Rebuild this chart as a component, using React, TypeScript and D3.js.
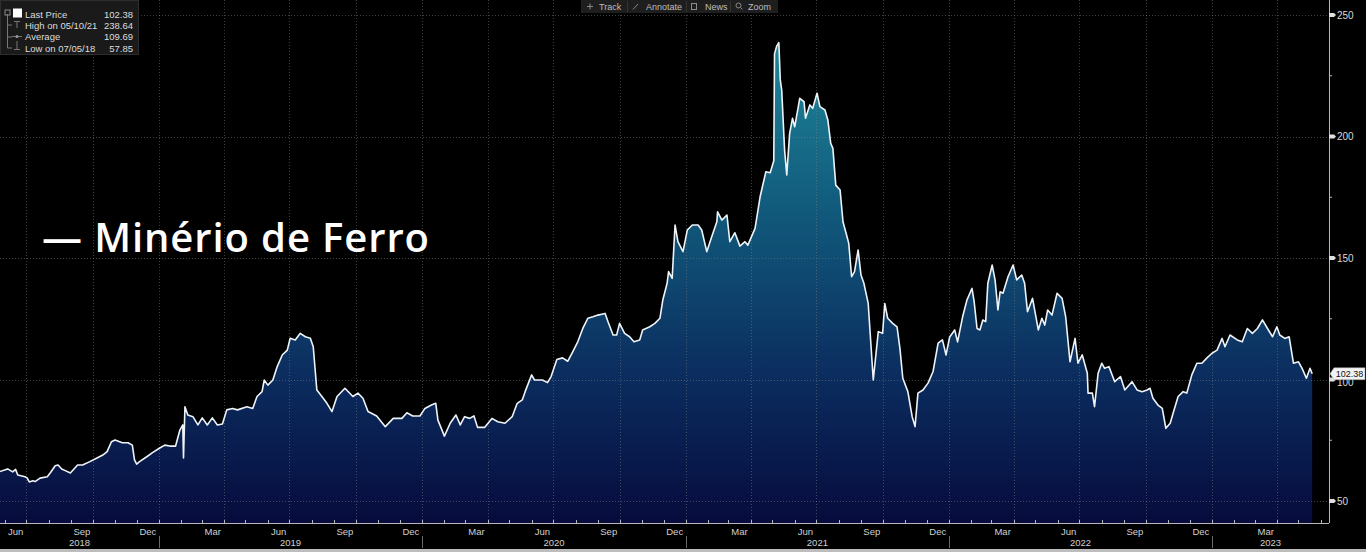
import React from "react";
import * as d3 from "d3";

const dates = [
  "2018-05-25","2018-06-05","2018-06-12","2018-06-16","2018-06-19","2018-06-29","2018-07-02","2018-07-05","2018-07-10","2018-07-13",
  "2018-07-20","2018-07-30","2018-08-03","2018-08-10","2018-08-14","2018-08-19","2018-08-24","2018-08-31","2018-09-06","2018-09-10",
  "2018-09-17","2018-09-27","2018-10-07","2018-10-15","2018-10-21","2018-10-27","2018-11-01","2018-11-11","2018-11-19","2018-11-25",
  "2018-11-28","2018-12-01","2018-12-05","2018-12-15","2018-12-23","2019-01-02","2019-01-09","2019-01-16","2019-01-24","2019-01-30",
  "2019-02-03","2019-02-04","2019-02-06","2019-02-10","2019-02-17","2019-02-24","2019-03-02","2019-03-09","2019-03-16","2019-03-23",
  "2019-03-30","2019-04-05","2019-04-13","2019-04-20","2019-05-03","2019-05-11","2019-05-17","2019-05-24","2019-05-27","2019-06-01",
  "2019-06-08","2019-06-14","2019-06-21","2019-06-28","2019-07-02","2019-07-09","2019-07-16","2019-07-23","2019-07-30","2019-08-03",
  "2019-08-08","2019-08-15","2019-08-22","2019-08-29","2019-09-05","2019-09-16","2019-09-27","2019-10-04","2019-10-11","2019-10-18",
  "2019-10-30","2019-11-11","2019-11-22","2019-12-04","2019-12-11","2019-12-19","2019-12-29","2020-01-05","2020-01-14","2020-01-20",
  "2020-01-23","2020-02-01","2020-02-09","2020-02-17","2020-02-23","2020-02-29","2020-03-07","2020-03-13","2020-03-18","2020-03-28",
  "2020-04-07","2020-04-15","2020-04-25","2020-05-05","2020-05-12","2020-05-19","2020-05-23","2020-06-01","2020-06-05","2020-06-16",
  "2020-06-23","2020-06-28","2020-07-06","2020-07-14","2020-07-21","2020-07-28","2020-08-04","2020-08-11","2020-08-18","2020-08-25",
  "2020-09-01","2020-09-11","2020-09-15","2020-09-22","2020-09-27","2020-10-01","2020-10-08","2020-10-15","2020-10-21","2020-10-29",
  "2020-11-02","2020-11-12","2020-11-19","2020-11-26","2020-11-30","2020-12-06","2020-12-08","2020-12-13","2020-12-17","2020-12-21",
  "2020-12-28","2021-01-03","2021-01-10","2021-01-18","2021-01-23","2021-01-30","2021-02-06","2021-02-13","2021-02-14","2021-02-20",
  "2021-02-27","2021-03-03","2021-03-10","2021-03-17","2021-03-24","2021-03-28","2021-04-07","2021-04-14","2021-04-22","2021-04-28",
  "2021-05-03","2021-05-04","2021-05-07","2021-05-10","2021-05-12","2021-05-14","2021-05-18","2021-05-21","2021-05-25","2021-05-29",
  "2021-06-01","2021-06-08","2021-06-14","2021-06-16","2021-06-22","2021-06-26","2021-07-02","2021-07-06","2021-07-13","2021-07-17",
  "2021-07-21","2021-07-24","2021-07-28","2021-08-03","2021-08-07","2021-08-12","2021-08-15","2021-08-19","2021-08-23","2021-08-28",
  "2021-09-01","2021-09-05","2021-09-11","2021-09-18","2021-09-25","2021-10-01","2021-10-04","2021-10-08","2021-10-15","2021-10-21",
  "2021-10-25","2021-10-29","2021-11-05","2021-11-11","2021-11-15","2021-11-19","2021-11-26","2021-12-03","2021-12-10","2021-12-17",
  "2021-12-23","2021-12-28","2022-01-02","2022-01-09","2022-01-13","2022-01-20","2022-01-26","2022-02-02","2022-02-05","2022-02-09",
  "2022-02-13","2022-02-17","2022-02-21","2022-02-24","2022-03-02","2022-03-06","2022-03-10","2022-03-13","2022-03-17","2022-03-24",
  "2022-03-31","2022-04-05","2022-04-12","2022-04-16","2022-04-20","2022-04-27","2022-05-05","2022-05-10","2022-05-14","2022-05-18",
  "2022-05-24","2022-05-31","2022-06-07","2022-06-12","2022-06-18","2022-06-25","2022-06-29","2022-07-05","2022-07-12","2022-07-13",
  "2022-07-19","2022-07-22","2022-07-27","2022-08-01","2022-08-05","2022-08-11","2022-08-19","2022-08-27","2022-09-02","2022-09-12",
  "2022-09-19","2022-09-26","2022-10-03","2022-10-07","2022-10-11","2022-10-18","2022-10-24","2022-10-29","2022-11-04","2022-11-08",
  "2022-11-15","2022-11-22","2022-11-27","2022-12-04","2022-12-11","2022-12-18","2022-12-25","2023-01-01","2023-01-08","2023-01-15",
  "2023-01-19","2023-01-26","2023-02-05","2023-02-12","2023-02-19","2023-02-26","2023-03-05","2023-03-12","2023-03-19","2023-03-26",
  "2023-04-01","2023-04-05","2023-04-12","2023-04-18","2023-04-24","2023-05-01","2023-05-06","2023-05-12","2023-05-17","2023-05-20"
];

const prices = [
  62.1,63.2,62.0,63.0,60.7,60.0,59.5,57.85,58.3,58.0,
  59.4,60.0,61.5,64.5,64.8,63.2,62.5,61.5,63.5,64.8,
  64.8,66.2,67.7,68.9,70.3,74.4,75.1,74.0,74.0,73.0,
  66.9,65.2,66.2,68.2,69.9,71.8,73.0,72.6,72.6,79.2,
  81.3,67.7,88.8,85.4,84.7,81.3,84.2,81.3,84.2,81.3,
  81.7,87.5,88.1,87.5,88.8,88.1,93.0,95.0,99.8,97.7,
  99.8,105.3,110.1,112.1,117.0,116.3,119.0,117.6,117.0,113.5,
  95.7,93.0,90.2,86.8,93.0,96.4,93.0,94.4,92.3,86.8,
  85.0,80.6,84.0,84.0,86.3,85.0,85.0,88.1,89.5,90.2,
  83.3,76.7,82.0,85.4,81.3,84.7,84.0,85.0,80.3,80.3,
  84.0,82.6,82.0,84.7,90.2,91.6,95.0,101.9,99.8,99.8,
  98.7,101.2,108.2,108.9,107.5,111.4,115.5,121.0,125.2,125.8,
  126.5,127.2,123.8,118.3,118.3,123.1,119.0,117.6,115.5,116.3,
  120.4,121.7,123.1,125.2,132.7,139.6,144.4,141.6,163.6,156.7,
  152.6,161.5,163.6,163.6,161.5,152.6,158.8,164.9,169.0,165.6,
  167.7,156.7,160.4,154.9,156.7,155.3,162.2,175.2,185.5,185.1,
  190.0,234.0,237.2,238.64,223.3,219.1,194.4,184.2,201.3,207.5,
  204.0,215.7,214.3,207.5,213.0,211.6,217.8,212.3,210.9,206.8,
  197.2,195.1,180.0,178.0,164.9,159.5,156.0,142.3,144.4,153.3,
  143.0,139.6,131.3,99.8,119.7,119.0,131.3,125.2,123.1,121.7,
  112.8,100.5,95.0,84.7,80.6,94.4,95.7,98.5,103.3,115.0,
  116.3,110.1,117.5,120.4,115.5,125.8,132.7,137.5,132.0,121.0,
  120.4,124.5,123.8,139.6,147.1,141.0,128.6,136.1,135.5,142.3,
  147.1,141.0,143.0,139.6,127.9,133.4,120.4,125.2,122.4,128.6,
  126.5,135.5,133.4,125.8,107.3,116.9,106.7,110.1,102.6,94.4,
  94.4,88.8,102.6,106.7,104.6,105.3,99.1,101.2,95.7,99.1,
  95.7,95.0,95.7,96.4,92.3,89.5,88.1,79.9,82.0,86.1,
  93.0,95.0,94.4,101.9,106.7,106.7,108.9,110.8,112.1,116.9,
  113.5,118.3,116.3,115.5,121.0,119.0,121.0,124.5,121.0,117.6,
  121.7,118.3,116.9,117.6,106.7,107.3,104.6,100.5,104.6,102.38
];

const yTicks = [50, 100, 150, 200, 250];
const yMinorTicks = [75, 125, 175, 225];
const labelMonths = [2, 5, 8, 11];
const legendLabels = ["Last Price", "High on 05/10/21", "Average", "Low on 07/05/18"];
const legendValues = ["102.38", "238.64", "109.69", "57.85"];
const toolbarItems = ["Track", "Annotate", "News", "Zoom"];
const titleText = "— Minério de Ferro";
const lastPriceText = "102.38";

export default function App() {
  const W = 1366;
  const H = 552;
  const plotRight = 1329;
  const plotBottom = 523;
  const parse = d3.utcParse("%Y-%m-%d");
  const data = dates.map((d, i) => ({ date: parse(d) as Date, value: prices[i] }));

  const x = d3
    .scaleUtc()
    .domain([new Date(Date.UTC(2019, 0, 1)), new Date(Date.UTC(2023, 0, 1))])
    .range([159, 1212]);
  const y = d3.scaleLinear().domain([50, 250]).range([501, 15]);

  const xStart = x.invert(0);
  const xEnd = x.invert(plotRight);

  const area = d3
    .area<{ date: Date; value: number }>()
    .x((d) => x(d.date))
    .y0(plotBottom)
    .y1((d) => y(d.value));
  const line = d3
    .line<{ date: Date; value: number }>()
    .x((d) => x(d.date))
    .y((d) => y(d.value));

  const monthStarts = d3.utcMonth.range(d3.utcMonth.floor(xStart), xEnd);
  const tickMonths = monthStarts.filter((m) => x(m) >= 0 && x(m) <= plotRight);
  const quarterStarts = tickMonths.filter((m) => m.getUTCMonth() % 3 === 0);
  const fmt = d3.utcFormat("%b");
  const monthLabelData = monthStarts
    .filter((m) => labelMonths.includes(m.getUTCMonth()))
    .map((m) => {
      const next = d3.utcMonth.offset(m, 1);
      return { text: fmt(m), cx: (x(m) + x(next)) / 2 };
    })
    .filter((d) => d.cx > 0 && d.cx < plotRight);

  const years = d3.range(xStart.getUTCFullYear(), xEnd.getUTCFullYear() + 1);
  const yearData = years.map((yr) => {
    const a = Math.max(0, x(new Date(Date.UTC(yr, 0, 1))));
    const b = Math.min(plotRight, x(new Date(Date.UTC(yr + 1, 0, 1))));
    return { text: String(yr), cx: (a + b) / 2 };
  });
  const yearSeps = years
    .map((yr) => new Date(Date.UTC(yr, 0, 1)))
    .filter((d) => x(d) > 0 && x(d) < plotRight);

  const axisFont = "'Liberation Sans', Arial, sans-serif";
  const last = data[data.length - 1];
  const lastY = y(last.value);

  return (
    <div style={{ position: "absolute", left: 0, top: 0 }}>
      <svg width={W} height={H} style={{ display: "block", background: "#000" }}>
        <defs>
          <linearGradient id="fillGrad" gradientUnits="userSpaceOnUse" x1="0" y1="40" x2="0" y2={plotBottom}>
            <stop offset="0" stopColor="#1f8799" />
            <stop offset="0.35" stopColor="#115a7c" />
            <stop offset="0.7" stopColor="#0b2c5e" />
            <stop offset="1" stopColor="#070b3d" />
          </linearGradient>
        </defs>
        <rect x={0} y={0} width={W} height={H} fill="#000" />

        <path d={area(data) || ""} fill="url(#fillGrad)" />

        {/* grid */}
        <g stroke="#8a8a8a" strokeOpacity={0.45} strokeDasharray="1 2" strokeWidth={1}>
          {yTicks.map((t) => (
            <line key={"h" + t} x1={0} x2={plotRight} y1={Math.round(y(t)) + 0.5} y2={Math.round(y(t)) + 0.5} />
          ))}
          {quarterStarts.map((m) => (
            <line key={"v" + m.getTime()} x1={Math.round(x(m)) + 0.5} x2={Math.round(x(m)) + 0.5} y1={0} y2={plotBottom} />
          ))}
        </g>

        <path d={line(data) || ""} fill="none" stroke="#eef3f8" strokeWidth={1.6} strokeLinejoin="round" />

        {/* axes */}
        <line x1={0} x2={plotRight} y1={plotBottom + 0.5} y2={plotBottom + 0.5} stroke="#b8b8b8" />
        <line x1={plotRight + 0.5} x2={plotRight + 0.5} y1={0} y2={plotBottom} stroke="#b8b8b8" />
        {tickMonths.map((m) => (
          <line key={"mt" + m.getTime()} x1={Math.round(x(m)) + 0.5} x2={Math.round(x(m)) + 0.5} y1={plotBottom - 3} y2={plotBottom} stroke="#b8b8b8" />
        ))}
        {yMinorTicks.map((t) => (
          <line key={"mn" + t} x1={plotRight} x2={plotRight + 3} y1={y(t)} y2={y(t)} stroke="#b8b8b8" />
        ))}
        {yTicks.map((t) => (
          <g key={"yt" + t}>
            <path d={`M${plotRight},${y(t) - 2}L${plotRight + 5},${y(t) - 2}L${plotRight + 7},${y(t)}L${plotRight + 5},${y(t) + 2}L${plotRight},${y(t) + 2}Z`} fill="#e0e0e0" />
            <text x={plotRight + 8} y={y(t) + (t === 100 ? 6 : 3.5)} fontSize={10} fill="#d8d8d8" fontFamily={axisFont}>
              {t}
            </text>
          </g>
        ))}

        {monthLabelData.map((d) => (
          <text key={"ml" + d.cx} x={d.cx} y={535} textAnchor="middle" fontSize={9.5} fill="#d0d0d0" fontFamily={axisFont}>
            {d.text}
          </text>
        ))}
        {yearData.map((d) => (
          <text key={"yl" + d.text} x={d.cx} y={546} textAnchor="middle" fontSize={9.5} fill="#d0d0d0" fontFamily={axisFont}>
            {d.text}
          </text>
        ))}
        {yearSeps.map((d) => (
          <line key={"ys" + d.getTime()} x1={Math.round(x(d)) + 0.5} x2={Math.round(x(d)) + 0.5} y1={536} y2={548} stroke="#6a6a6a" />
        ))}
        <rect x={0} y={549} width={W} height={3} fill="#bdbdbd" />

        {/* last price tag */}
        <path
          d={`M${plotRight + 1},${lastY}L${plotRight + 5},${lastY - 6}L${W - 1},${lastY - 6}L${W - 1},${lastY + 6}L${plotRight + 5},${lastY + 6}Z`}
          fill="#f2f2f2"
          stroke="#999"
          strokeWidth={0.5}
        />
        <text x={(plotRight + 5 + W - 1) / 2} y={lastY + 3.3} textAnchor="middle" fontSize={9} fill="#111" fontFamily={axisFont}>
          {lastPriceText}
        </text>

        {/* legend box */}
        <rect x={0.5} y={0.5} width={138} height={54} fill="#1a1a1a" stroke="#2e2e2e" />
        <g stroke="#777" strokeWidth={1} fill="none">
          <line x1={7.5} x2={7.5} y1={14} y2={48} />
          <rect x={5} y={10} width={5} height={5} stroke="#888" />
          <line x1={7.5} x2={12} y1={25} y2={25} />
          <line x1={7.5} x2={12} y1={37} y2={37} />
          <line x1={7.5} x2={12} y1={48} y2={48} />
          <line x1={14} x2={20} y1={21.5} y2={21.5} />
          <line x1={17} x2={17} y1={21.5} y2={28} />
          <line x1={12} x2={22} y1={36.5} y2={36.5} />
          <line x1={17} x2={17} y1={41} y2={49} />
          <line x1={14} x2={20} y1={49.5} y2={49.5} />
        </g>
        <circle cx={17} cy={36.5} r={1.5} fill="#999" />
        <rect x={13} y={8.5} width={9} height={9} fill="#fff" />
        {legendLabels.map((l, i) => (
          <g key={"lg" + i}>
            <text x={25} y={18 + i * 11.2} fontSize={9.5} fill="#dcdcdc" fontFamily={axisFont}>
              {l}
            </text>
            <text x={133} y={18 + i * 11.2} fontSize={9.5} fill="#dcdcdc" textAnchor="end" fontFamily={axisFont}>
              {legendValues[i]}
            </text>
          </g>
        ))}

        {/* toolbar */}
        <rect x={581} y={0} width={197} height={13} fill="#1e1e1e" />
        <line x1={627.5} x2={627.5} y1={1} y2={12} stroke="#333" />
        <line x1={686.5} x2={686.5} y1={1} y2={12} stroke="#333" />
        <line x1={730.5} x2={730.5} y1={1} y2={12} stroke="#333" />
        <g stroke="#8a8a8a" strokeWidth={1} fill="none">
          <line x1={587} x2={593} y1={6.5} y2={6.5} />
          <line x1={590} x2={590} y1={3.5} y2={9.5} />
          <line x1={633} x2={638} y1={9.5} y2={4} />
          <rect x={691.5} y={3.5} width={5} height={6} />
          <circle cx={738.5} cy={5.5} r={2.5} />
          <line x1={740.5} x2={742.5} y1={7.5} y2={9.5} />
        </g>
        {toolbarItems.map((t, i) => (
          <text key={t} x={[599, 646, 705, 748][i]} y={10} fontSize={9} fill="#bdbdbd" fontFamily={axisFont}>
            {t}
          </text>
        ))}

        {/* title */}
        <text x={42} y={252} fontSize={40} fontWeight={600} letterSpacing={0.9} fill="#ffffff" fontFamily="'Open Sans', Lato, sans-serif">
          {titleText}
        </text>
      </svg>
    </div>
  );
}
